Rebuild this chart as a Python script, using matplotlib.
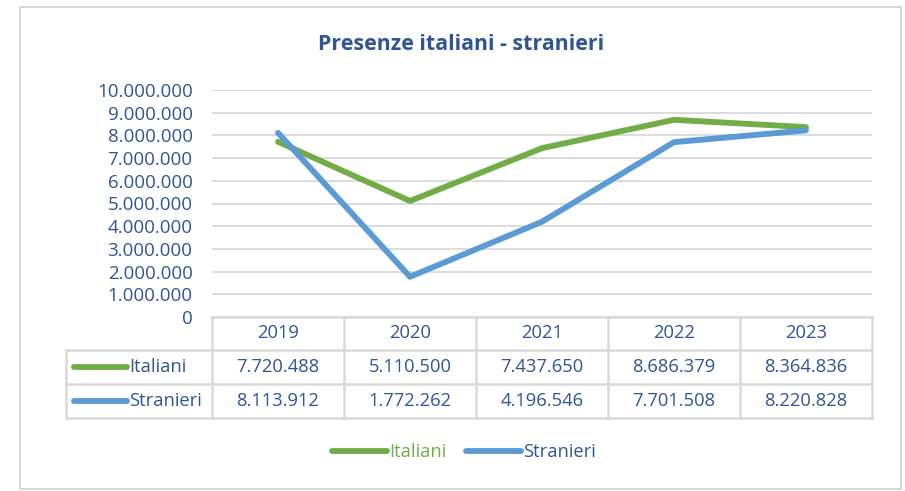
import matplotlib
matplotlib.use("Agg")
import matplotlib.pyplot as plt
from matplotlib.lines import Line2D
from matplotlib.patches import Rectangle
from matplotlib.transforms import blended_transform_factory

plt.rcParams['font.family'] = ['Open Sans', 'DejaVu Sans']

years = ["2019", "2020", "2021", "2022", "2023"]
italiani = [7720488, 5110500, 7437650, 8686379, 8364836]
stranieri = [8113912, 1772262, 4196546, 7701508, 8220828]
series_names = ["Italiani", "Stranieri"]
yticks = list(range(0, 10000001, 1000000))
title = "Presenze italiani - stranieri"

GREEN = "#70AD47"
BLUE = "#5B9BD5"
TXT = "#2F5597"
GRID = "#D9D9D9"

W, H = 905, 491
fig = plt.figure(figsize=(W / 100, H / 100), dpi=100)

def fx(px):
    return px / W

def fy(py):
    return 1 - py / H

# outer border
fig.add_artist(Rectangle((fx(20), fy(489)), fx(901) - fx(20), fy(7) - fy(489),
                         transform=fig.transFigure, fill=False, edgecolor="#D0D0D0", lw=1.2))

left, right, top, bottom = 212, 872, 90, 317
ax = fig.add_axes([fx(left), fy(bottom), fx(right) - fx(left), fy(top) - fy(bottom)])
x = list(range(len(years)))
ax.plot(x, italiani, color=GREEN, lw=4.2, solid_capstyle="round", label=series_names[0], zorder=3)
ax.plot(x, stranieri, color=BLUE, lw=4.2, solid_capstyle="round", label=series_names[1], zorder=4)
ax.set_xlim(-0.5, len(years) - 0.5)
ax.set_ylim(0, 10000000)
ax.set_yticks(yticks)
ax.set_yticklabels([f"{v:,}".replace(",", ".") for v in yticks], color=TXT, fontsize=13.5)
ax.tick_params(axis="y", length=0, pad=14)
ax.set_xticks([])
for s in ax.spines.values():
    s.set_visible(False)
ax.grid(axis="y", color=GRID, lw=1.3)
ax.set_axisbelow(True)

fig.text(fx(461), fy(44), title, ha="center", va="center", fontsize=15.4,
         fontweight="bold", color=TXT)

# data table
tr = blended_transform_factory(ax.transData, fig.transFigure)
rows_y = [317, 350, 384, 418]
lc = dict(color=GRID, lw=1.8, transform=fig.transFigure)
fig.add_artist(Line2D([fx(left), fx(right)], [fy(rows_y[0])] * 2, **lc))
for ry in rows_y[1:]:
    fig.add_artist(Line2D([fx(66), fx(right)], [fy(ry)] * 2, **lc))
fig.add_artist(Line2D([fx(66), fx(66)], [fy(rows_y[1]), fy(rows_y[3])], **lc))
ncat = len(years)
for i in range(ncat + 1):
    xx = left + (right - left) * i / ncat
    fig.add_artist(Line2D([fx(xx), fx(xx)], [fy(rows_y[0]), fy(rows_y[3])], **lc))

fs = 13.2
for i, yr in enumerate(years):
    fig.text(i, fy((rows_y[0] + rows_y[1]) / 2), yr, transform=tr, ha="center", va="center",
             fontsize=fs, color=TXT)
for r, (vals, name, col) in enumerate([(italiani, series_names[0], GREEN),
                                       (stranieri, series_names[1], BLUE)]):
    cy = fy((rows_y[r + 1] + rows_y[r + 2]) / 2)
    for i, v in enumerate(vals):
        fig.text(i, cy, f"{v:,}".replace(",", "."), transform=tr, ha="center", va="center",
                 fontsize=fs, color=TXT)
    fig.add_artist(Line2D([fx(74), fx(127)], [cy, cy], color=col, lw=4.2,
                          solid_capstyle="round", transform=fig.transFigure))
    fig.text(fx(129), cy, name, ha="left", va="center", fontsize=fs, color=TXT)

leg = fig.legend(loc="center", bbox_to_anchor=(fx(464), fy(452)), ncol=2, frameon=False,
                 handlelength=3.0, handletextpad=0.1, columnspacing=1.1, fontsize=fs)
for t, c in zip(leg.get_texts(), [GREEN, TXT]):
    t.set_color(c)

fig.savefig("out.png", dpi=100)
